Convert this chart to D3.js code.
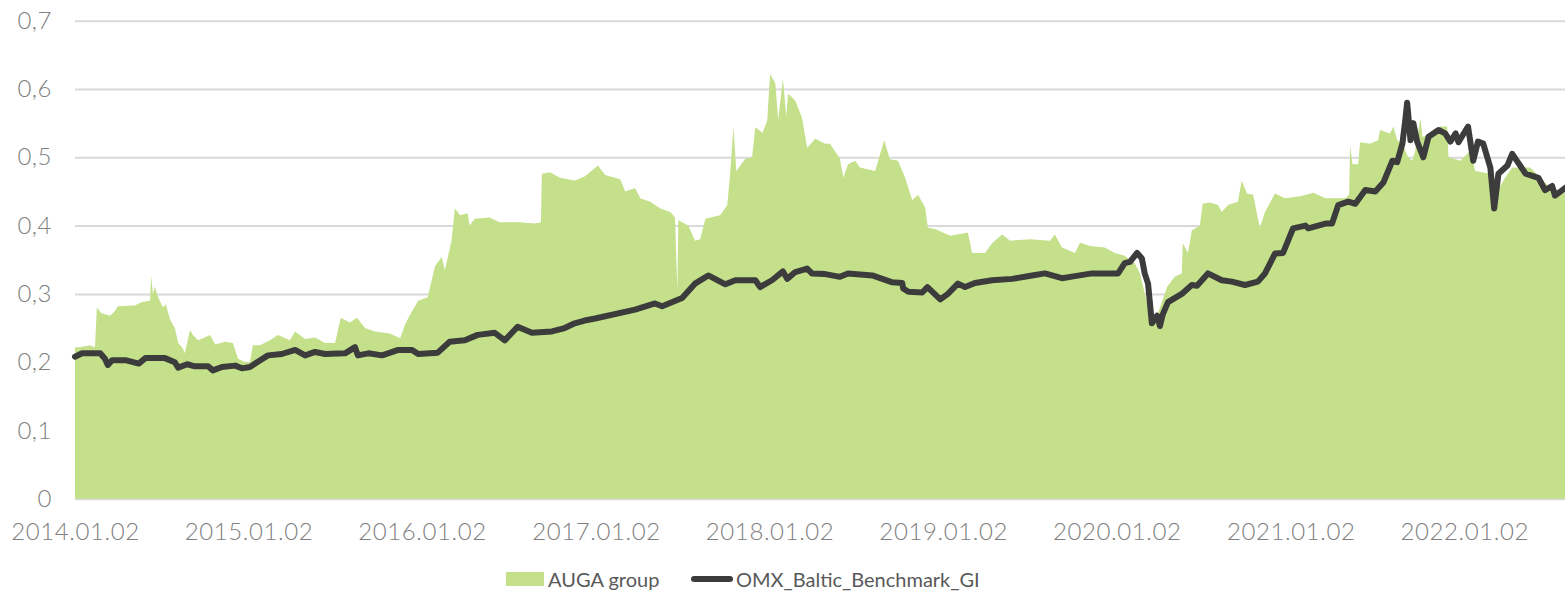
<!DOCTYPE html>
<html>
<head>
<meta charset="utf-8">
<script src="https://cdn.jsdelivr.net/npm/d3@7"></script>
<style>
  body { margin: 0; background: #fff; }
  svg { display: block; }
</style>
</head>
<body>
<div id="chart"></div>
<script>
// AUGA group share price (area)
const augaDates = [
  '2014-01-02','2014-01-12','2014-02-02','2014-02-13','2014-02-17','2014-02-26','2014-03-17','2014-03-27','2014-04-02','2014-05-08',
  '2014-05-23','2014-06-09','2014-06-11','2014-06-15','2014-06-19','2014-06-26','2014-07-06','2014-07-12','2014-07-21','2014-07-31',
  '2014-08-07','2014-08-17','2014-08-21','2014-09-01','2014-09-07','2014-09-18','2014-09-28','2014-10-13','2014-10-24','2014-11-14',
  '2014-11-30','2014-12-11','2014-12-26','2015-01-05','2015-01-11','2015-01-26','2015-02-16','2015-03-05','2015-03-30','2015-04-10',
  '2015-05-01','2015-05-22','2015-06-12','2015-07-03','2015-07-15','2015-08-03','2015-08-18','2015-09-04','2015-09-25','2015-10-26',
  '2015-11-17','2015-11-27','2015-12-08','2015-12-25','2016-01-14','2016-01-29','2016-02-12','2016-02-19','2016-03-04','2016-03-11',
  '2016-03-22','2016-04-07','2016-04-11','2016-04-22','2016-05-23','2016-06-13','2016-07-26','2016-08-26','2016-09-08','2016-09-10',
  '2016-09-27','2016-10-18','2016-11-18','2016-12-09','2017-01-06','2017-01-21','2017-02-22','2017-03-04','2017-03-25','2017-04-05',
  '2017-04-26','2017-05-17','2017-06-07','2017-06-17','2017-06-22','2017-06-24','2017-07-15','2017-07-29','2017-08-09','2017-08-20',
  '2017-09-20','2017-10-05','2017-10-11','2017-10-18','2017-10-24','2017-11-12','2017-11-26','2017-12-03','2017-12-18','2017-12-28',
  '2018-01-03','2018-01-14','2018-01-20','2018-01-30','2018-02-06','2018-02-10','2018-02-25','2018-03-11','2018-03-22','2018-04-08',
  '2018-04-29','2018-05-09','2018-05-30','2018-06-06','2018-06-16','2018-07-01','2018-07-11','2018-08-12','2018-08-31','2018-09-12',
  '2018-09-29','2018-10-14','2018-10-29','2018-11-10','2018-11-25','2018-12-01','2018-12-16','2019-01-17','2019-02-23','2019-03-04',
  '2019-03-31','2019-04-15','2019-05-06','2019-05-23','2019-07-04','2019-08-15','2019-08-25','2019-09-09','2019-10-06','2019-10-17',
  '2019-11-07','2019-12-08','2019-12-29','2020-01-19','2020-01-30','2020-02-09','2020-02-20','2020-03-12','2020-03-22','2020-04-02',
  '2020-04-17','2020-05-03','2020-05-18','2020-05-20','2020-05-31','2020-06-08','2020-06-25','2020-07-01','2020-07-16','2020-08-02',
  '2020-08-10','2020-08-23','2020-09-13','2020-09-21','2020-10-02','2020-10-15','2020-10-29','2020-11-09','2020-11-30','2020-12-21',
  '2021-01-22','2021-02-19','2021-03-16','2021-04-27','2021-05-05','2021-05-07','2021-05-12','2021-05-24','2021-05-28','2021-06-18',
  '2021-07-05','2021-07-09','2021-07-30','2021-08-06','2021-08-14','2021-08-25','2021-09-06','2021-09-15','2021-09-21','2021-10-02',
  '2021-10-06','2021-11-02','2021-11-13','2021-11-27','2021-11-30','2021-12-25','2022-01-15','2022-01-25','2022-02-26','2022-03-02',
  '2022-03-12','2022-03-29','2022-04-13','2022-05-21','2022-06-11','2022-07-02','2022-08-02'
];
const augaValues = [
  0.222,0.222,0.225,0.222,0.28,0.272,0.268,0.275,0.282,0.283,
  0.288,0.29,0.327,0.30,0.31,0.295,0.28,0.285,0.262,0.25,
  0.228,0.22,0.213,0.247,0.24,0.232,0.235,0.24,0.226,0.23,
  0.228,0.205,0.2,0.2,0.225,0.225,0.232,0.24,0.232,0.245,
  0.234,0.236,0.228,0.228,0.265,0.258,0.265,0.25,0.245,0.242,
  0.235,0.255,0.27,0.29,0.295,0.34,0.354,0.335,0.378,0.425,
  0.415,0.418,0.40,0.41,0.412,0.405,0.405,0.403,0.405,0.476,
  0.478,0.47,0.466,0.472,0.488,0.474,0.468,0.45,0.455,0.44,
  0.435,0.425,0.42,0.412,0.305,0.408,0.40,0.378,0.38,0.41,
  0.415,0.43,0.476,0.544,0.48,0.498,0.50,0.544,0.536,0.554,
  0.622,0.608,0.555,0.615,0.56,0.593,0.583,0.558,0.514,0.527,
  0.52,0.52,0.498,0.47,0.49,0.495,0.485,0.48,0.525,0.497,
  0.495,0.47,0.437,0.445,0.427,0.397,0.395,0.385,0.39,0.36,
  0.36,0.374,0.387,0.378,0.38,0.378,0.387,0.368,0.36,0.375,
  0.37,0.368,0.36,0.356,0.35,0.345,0.33,0.27,0.26,0.28,
  0.31,0.325,0.33,0.374,0.36,0.393,0.40,0.432,0.434,0.43,
  0.42,0.43,0.435,0.466,0.447,0.445,0.397,0.42,0.447,0.44,
  0.443,0.448,0.44,0.44,0.445,0.517,0.49,0.49,0.522,0.52,
  0.525,0.54,0.535,0.545,0.525,0.52,0.50,0.495,0.51,0.557,
  0.53,0.535,0.545,0.545,0.50,0.495,0.51,0.48,0.476,0.466,
  0.45,0.47,0.485,0.485,0.47,0.455,0.448
];

// OMX Baltic Benchmark GI (line, rebased)
const omxDates = [
  '2014-01-02','2014-01-17','2014-02-24','2014-03-06','2014-03-12','2014-03-21','2014-04-18','2014-05-16','2014-05-30','2014-07-10',
  '2014-07-31','2014-08-07','2014-08-26','2014-09-11','2014-10-09','2014-10-19','2014-11-07','2014-12-05','2014-12-19','2015-01-05',
  '2015-01-20','2015-02-12','2015-03-13','2015-04-10','2015-05-01','2015-05-22','2015-06-12','2015-07-24','2015-08-14','2015-08-20',
  '2015-09-11','2015-10-10','2015-11-13','2015-12-12','2015-12-25','2016-02-04','2016-02-29','2016-04-01','2016-04-28','2016-06-03',
  '2016-06-24','2016-07-21','2016-08-20','2016-10-01','2016-10-28','2016-11-18','2016-12-09','2016-12-31','2017-03-25','2017-05-06',
  '2017-05-21','2017-07-02','2017-07-29','2017-08-26','2017-10-01','2017-10-22','2017-12-03','2017-12-13','2018-01-07','2018-01-30',
  '2018-02-08','2018-02-25','2018-03-22','2018-04-01','2018-04-29','2018-05-30','2018-06-16','2018-08-06','2018-09-17','2018-10-08',
  '2018-10-10','2018-10-21','2018-11-19','2018-11-30','2018-12-27','2019-01-12','2019-02-02','2019-02-17','2019-03-10','2019-04-15',
  '2019-05-27','2019-07-08','2019-08-04','2019-09-09','2019-10-06','2019-11-11','2020-01-05','2020-01-19','2020-01-30','2020-02-14',
  '2020-02-24','2020-03-01','2020-03-08','2020-03-16','2020-03-27','2020-04-02','2020-04-08','2020-04-19','2020-05-18','2020-06-08',
  '2020-06-19','2020-07-12','2020-08-10','2020-08-31','2020-09-28','2020-10-25','2020-11-09','2020-11-30','2020-12-17','2021-01-07',
  '2021-02-02','2021-02-08','2021-03-16','2021-03-30','2021-04-12','2021-05-03','2021-05-18','2021-06-08','2021-06-29','2021-07-16',
  '2021-08-04','2021-08-14','2021-08-25','2021-08-31','2021-09-04','2021-09-06','2021-09-11','2021-09-17','2021-09-25','2021-10-08',
  '2021-10-19','2021-11-09','2021-11-23','2021-12-04','2021-12-15','2021-12-21','2022-01-10','2022-01-21','2022-01-31','2022-02-11',
  '2022-02-26','2022-03-06','2022-03-15','2022-04-03','2022-04-13','2022-05-11','2022-06-07','2022-06-21','2022-07-06','2022-07-12',
  '2022-08-02'
];
const omxValues = [
  0.208,0.213,0.213,0.205,0.196,0.203,0.203,0.198,0.206,0.206,
  0.20,0.192,0.197,0.194,0.194,0.188,0.193,0.195,0.191,0.193,
  0.20,0.21,0.212,0.218,0.21,0.215,0.212,0.213,0.222,0.21,
  0.213,0.21,0.218,0.218,0.212,0.214,0.23,0.232,0.24,0.243,
  0.232,0.252,0.243,0.245,0.25,0.257,0.261,0.264,0.277,0.286,
  0.282,0.294,0.315,0.327,0.314,0.32,0.32,0.31,0.32,0.333,
  0.322,0.332,0.337,0.33,0.329,0.325,0.33,0.327,0.317,0.316,
  0.308,0.303,0.302,0.31,0.292,0.30,0.315,0.31,0.316,0.32,
  0.322,0.327,0.33,0.323,0.326,0.33,0.33,0.345,0.347,0.36,
  0.352,0.33,0.315,0.257,0.268,0.253,0.27,0.288,0.30,0.313,
  0.312,0.33,0.32,0.318,0.313,0.318,0.33,0.359,0.36,0.396,
  0.40,0.396,0.403,0.403,0.43,0.435,0.432,0.452,0.45,0.463,
  0.495,0.493,0.52,0.554,0.58,0.565,0.525,0.55,0.523,0.50,
  0.53,0.54,0.535,0.523,0.535,0.522,0.545,0.495,0.523,0.52,
  0.485,0.425,0.476,0.488,0.505,0.476,0.47,0.452,0.458,0.444,
  0.455
];

const yTicks = [0, 0.1, 0.2, 0.3, 0.4, 0.5, 0.6, 0.7];
const xTickDates = ['2014-01-02','2015-01-02','2016-01-02','2017-01-02','2018-01-02','2019-01-02','2020-01-02','2021-01-02','2022-01-02'];
const seriesNames = ['AUGA group', 'OMX_Baltic_Benchmark_GI'];
const domainStart = '2014-01-02';
const domainEnd = '2022-08-02';

// ---------------- drawing ----------------
const width = 1565, height = 600;
const plotLeft = 75, plotRight = 1565, plotTop = 20.7, plotBottom = 498.8;
const areaColor = '#c4e08a', lineColor = '#3c3c3c', gridColor = '#d9d9d9', labelColor = '#808080';
const font = 'Lato, "Noto Sans", sans-serif';

const parse = d3.timeParse('%Y-%m-%d');
const fmtDate = d3.timeFormat('%Y.%m.%d');
const locale = d3.formatLocale({ decimal: ',', thousands: ' ', grouping: [3], currency: ['', ''] });
const fmtVal = locale.format('.1~f');

const auga = augaDates.map((d, i) => ({ date: parse(d), value: augaValues[i] }));
const omx = omxDates.map((d, i) => ({ date: parse(d), value: omxValues[i] }));

const x = d3.scaleTime().domain([parse(domainStart), parse(domainEnd)]).range([plotLeft, plotRight]);
const y = d3.scaleLinear().domain([0, 0.7]).range([plotBottom, plotTop]);

const svg = d3.select('#chart').append('svg')
  .attr('width', width)
  .attr('height', height)
  .attr('font-family', font);

// grid + y labels
const yAxis = svg.append('g')
  .attr('transform', `translate(${plotLeft},0)`)
  .call(d3.axisLeft(y).tickValues(yTicks).tickFormat(fmtVal).tickSize(-(plotRight - plotLeft)).tickPadding(23));
yAxis.select('.domain').remove();
yAxis.selectAll('.tick line').attr('stroke', gridColor).attr('stroke-width', 2);
yAxis.selectAll('.tick text')
  .attr('fill', labelColor)
  .attr('font-size', 24)
  .attr('font-weight', 300)
  .attr('letter-spacing', 0.5)
  .attr('font-family', font);

// AUGA area
svg.append('path')
  .datum(auga)
  .attr('fill', areaColor)
  .attr('d', d3.area().x(d => x(d.date)).y0(y(0)).y1(d => y(d.value)));

// OMX line
svg.append('path')
  .datum(omx)
  .attr('fill', 'none')
  .attr('stroke', lineColor)
  .attr('stroke-width', 6)
  .attr('stroke-linejoin', 'round')
  .attr('stroke-linecap', 'round')
  .attr('d', d3.line().x(d => x(d.date)).y(d => y(d.value)));

// x labels
const xAxis = svg.append('g')
  .attr('transform', `translate(0,${plotBottom})`)
  .call(d3.axisBottom(x).tickValues(xTickDates.map(parse)).tickFormat(fmtDate).tickSize(0).tickPadding(24));
xAxis.select('.domain').remove();
xAxis.selectAll('.tick text')
  .attr('fill', labelColor)
  .attr('font-size', 24)
  .attr('font-weight', 300)
  .attr('letter-spacing', 0.6)
  .attr('font-family', font);

// legend
const legend = svg.append('g').attr('font-size', 20).attr('fill', '#595959');
legend.append('rect').attr('x', 506).attr('y', 572).attr('width', 38).attr('height', 14).attr('fill', areaColor);
legend.append('text').attr('x', 548).attr('y', 587).text(seriesNames[0]);
legend.append('line').attr('x1', 694).attr('x2', 730).attr('y1', 579).attr('y2', 579)
  .attr('stroke', lineColor).attr('stroke-width', 6).attr('stroke-linecap', 'round');
legend.append('text').attr('x', 736).attr('y', 587).text(seriesNames[1]);
</script>
</body>
</html>
